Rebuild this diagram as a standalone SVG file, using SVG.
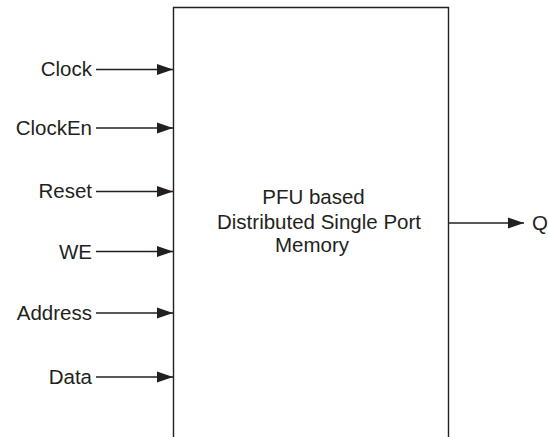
<svg xmlns="http://www.w3.org/2000/svg" width="548" height="437" viewBox="0 0 548 437">
<style>
text{font-family:"Liberation Sans",Arial,sans-serif;font-size:20.5px;fill:#231f20}
.lbl{text-anchor:end}
.c{text-anchor:middle}
.w{stroke:#231f20;stroke-width:1.4;fill:none}
</style>
<defs>
<marker id="ah" markerUnits="userSpaceOnUse" markerWidth="17" markerHeight="12" refX="16" refY="6" orient="auto">
<path d="M0,0.5 L16,6 L0,11.5 Z" fill="#231f20"/>
</marker>
</defs>
<rect width="548" height="437" fill="#fff"/>
<g id="memory">
<path class="w" d="M173.5,440 V7.5 H448.5 V440"/>
<text class="c" x="313.5" y="204">PFU based</text>
<text class="c" x="319" y="229">Distributed Single Port</text>
<text class="c" x="312" y="252">Memory</text>
</g>
<g id="in-clock"><text class="lbl" x="92" y="76">Clock</text></g>
<g id="in-clocken"><text class="lbl" x="92" y="135">ClockEn</text></g>
<g id="in-reset"><text class="lbl" x="92" y="198">Reset</text></g>
<g id="in-we"><text class="lbl" x="92" y="259">WE</text></g>
<g id="in-address"><text class="lbl" x="92" y="320">Address</text></g>
<g id="in-data"><text class="lbl" x="92" y="384">Data</text></g>
<g id="out-q"><text x="532" y="230">Q</text></g>
<g id="connectors">
<line class="w" x1="96" y1="69.5" x2="173" y2="69.5" marker-end="url(#ah)"/>
<line class="w" x1="96" y1="128" x2="173" y2="128" marker-end="url(#ah)"/>
<line class="w" x1="96" y1="191.5" x2="173" y2="191.5" marker-end="url(#ah)"/>
<line class="w" x1="96" y1="251.5" x2="173" y2="251.5" marker-end="url(#ah)"/>
<line class="w" x1="96" y1="313" x2="173" y2="313" marker-end="url(#ah)"/>
<line class="w" x1="96" y1="377" x2="173" y2="377" marker-end="url(#ah)"/>
<line class="w" x1="449" y1="223" x2="524" y2="223" marker-end="url(#ah)"/>
</g>
</svg>
